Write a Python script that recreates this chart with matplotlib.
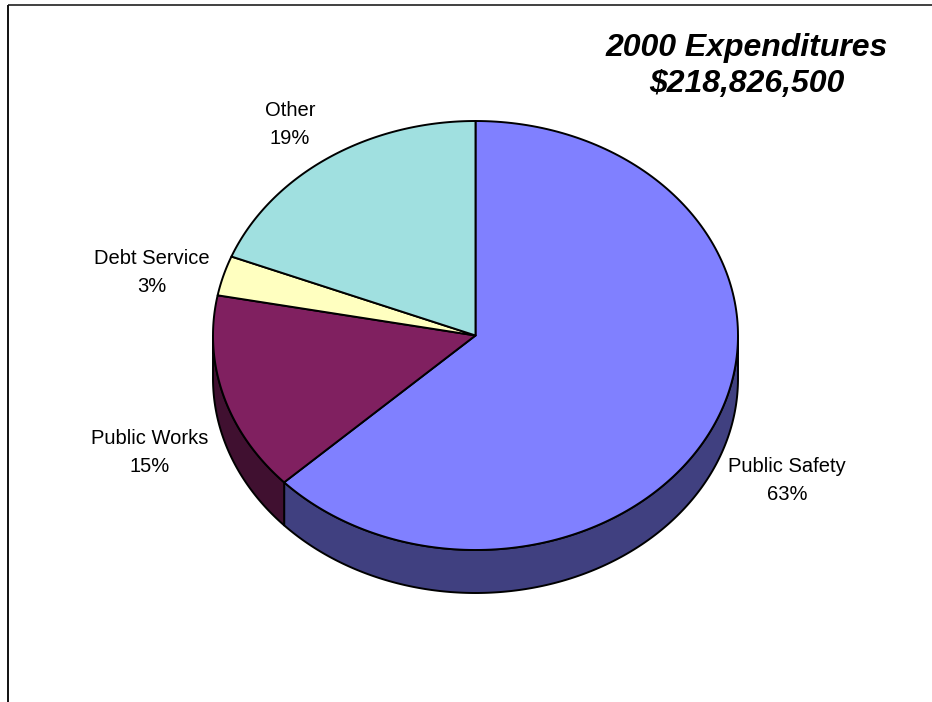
import numpy as np
import matplotlib
matplotlib.use("Agg")
import matplotlib.pyplot as plt
from matplotlib.patches import Polygon
from matplotlib.colors import to_rgb

plt.rcParams['font.family'] = ['Liberation Sans', 'DejaVu Sans']

# 2000 expenditures, share of total (percent)
categories = ['Public Safety', 'Public Works', 'Debt Service', 'Other']
shares = [63, 15, 3, 19]
total_label = '$218,826,500'
title_year = '2000'

colors = ['#8080FF', '#802060', '#FFFFC0', '#A0E0E0']
# label block centres (pixels)
label_pos = [(787, 481), (150, 452), (152, 272), (290, 125)]

fig = plt.figure(figsize=(9.32, 7.02), dpi=100)
ax = fig.add_axes([0, 0, 1, 1])
ax.set_xlim(0, 932)
ax.set_ylim(702, 0)
ax.axis('off')

# frame lines on top and left
ax.plot([8, 932], [5, 5], color='#202020', lw=1.2, solid_capstyle='butt')
ax.plot([8, 8], [5, 702], color='#101010', lw=1.4, solid_capstyle='butt')

cx, cy = 475.5, 335.5
rx, ry = 262.5, 214.5
depth = 43
lw = 1.4


def arc(t1, t2, n=200):
    t = np.deg2rad(np.linspace(t1, t2, n))
    return np.column_stack([cx + rx * np.cos(t), cy - ry * np.sin(t)])


total = float(sum(shares))
angles = []
start = 90.0
for v in shares:
    end = start - 360.0 * v / total
    angles.append((start, end))
    start = end

# side walls, only the front half is visible
for (t1, t2), c in zip(angles, colors):
    a, b = max(t2, -180.0), min(t1, 0.0)
    if a >= b:
        continue
    top = arc(b, a)
    bottom = top[::-1] + [0, depth]
    side = tuple(0.5 * x for x in to_rgb(c))
    ax.add_patch(Polygon(np.vstack([top, bottom]), closed=True, fc=side,
                         ec='black', lw=lw, joinstyle='round'))

# top faces
for (t1, t2), c in zip(angles, colors):
    pts = np.vstack([[cx, cy], arc(t1, t2)])
    ax.add_patch(Polygon(pts, closed=True, fc=c, ec='black', lw=lw,
                         joinstyle='round'))

for name, v, (x, y) in zip(categories, shares, label_pos):
    pct = round(100 * v / total)
    ax.text(x, y, f'{name}\n{pct}%', ha='center', va='center', fontsize=14.5,
            linespacing=1.6, color='black')

ax.text(747, 66, f'{title_year} Expenditures\n{total_label}', ha='center',
        va='center', fontsize=23, fontweight='bold', fontstyle='italic',
        linespacing=1.3)

fig.savefig('out.png', dpi=100)
